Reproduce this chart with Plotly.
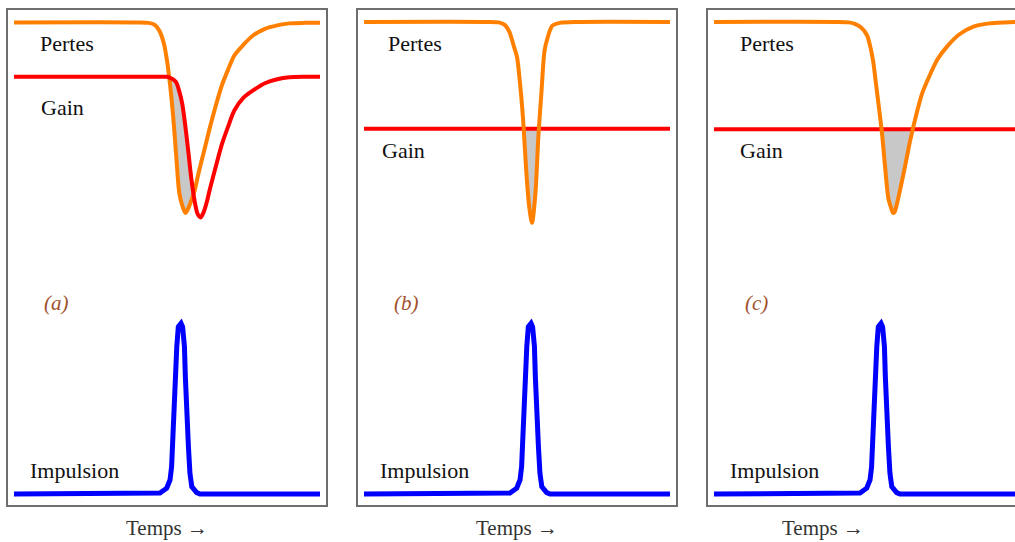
import numpy as np
import plotly.graph_objects as go
from plotly.subplots import make_subplots

# time axis (arbitrary units, 0..100) and levels (0 = bottom of box, 100 = top)
# panel (a)
t_a = [0, 40, 44, 46, 47.5, 49, 50, 51, 52, 53, 54, 55, 56, 57, 58, 59, 60, 61, 62, 63,
       64, 66, 68, 70, 72, 75, 78, 82, 86, 90, 95, 100]
pertes_a = [97.5, 97.5, 97.4, 97.0, 95.8, 93.2, 89.8, 84.9, 78.6, 70.7, 63.1, 60.5, 59.0, 60.0,
            61.6, 63.5, 66.2, 68.8, 71.2, 73.7, 76.2, 80.8, 84.9, 88.0, 90.8, 93.0, 94.8, 96.2,
            96.9, 97.3, 97.4, 97.4]
gain_a = [86.5, 86.5, 86.5, 86.5, 86.5, 86.5, 86.5, 86.3, 86.0, 85.4, 83.6, 81.0, 76.5, 71.2,
          65.7, 61.5, 58.8, 58.1, 59.2, 61.2, 63.8, 68.5, 73.0, 76.5, 79.7, 82.3, 83.7, 85.2,
          86.0, 86.4, 86.5, 86.5]

# panel (b)
t_b = [0, 40, 44, 46, 47.5, 49, 50, 51, 52, 53, 54, 54.9, 56, 57, 58, 59, 60, 61.5, 64, 70, 100]
pertes_b = [97.6, 97.6, 97.5, 97.0, 95.6, 92.6, 90.5, 85.1, 77.8, 67.7, 60.2, 57.0, 62.8, 74.6,
            83.5, 91.8, 94.4, 96.8, 97.4, 97.6, 97.6]
gain_b_level = 76.0

# panel (c)
t_c = [0, 40, 44, 46, 48, 50, 51, 52, 53, 54, 55, 56, 57, 58, 58.5, 59, 60, 61, 62, 63, 64, 66,
       68, 70, 73, 76, 80, 85, 90, 95, 100]
pertes_c = [97.6, 97.6, 97.5, 97.2, 96.5, 94.9, 92.8, 89.7, 84.8, 79.8, 74.5, 67.7, 61.9, 59.8,
            59.0, 59.2, 61.4, 64.2, 67.1, 70.2, 73.3, 78.6, 83.1, 86.1, 90.0, 92.5, 95.0, 96.7,
            97.3, 97.5, 97.6]
gain_c_level = 75.9

# pulse, same in the three panels
t_pulse = [0, 47.7, 49.9, 51.0, 51.5, 51.9, 52.3, 52.6, 53.2, 53.7, 54.6, 55.1, 55.7, 56.0, 56.4,
           57.0, 57.5, 58.1, 59.7, 60.8, 100]
pulse = [2.2, 2.4, 3.4, 5.1, 7.7, 13.8, 20.5, 27.9, 32.0, 36.0, 36.7, 36.0, 32.0, 25.9, 18.5,
         11.8, 6.4, 3.7, 2.5, 2.2, 2.2]

panel_tags = ["(a)", "(b)", "(c)"]

ORANGE = "#ff8000"
RED = "#ff0000"
BLUE = "#0000ff"
GREY_FILL = "#c8c8c8"
SERIF = "Liberation Serif, Times New Roman, serif"

panels = [
    (t_a, pertes_a, gain_a, True),
    (t_b, pertes_b, [gain_b_level] * len(t_b), False),
    (t_c, pertes_c, [gain_c_level] * len(t_c), False),
]

fig = make_subplots(rows=1, cols=3)

for i, (t, pertes, gain, red_on_top) in enumerate(panels):
    col = i + 1
    low = np.minimum(np.array(pertes), np.array(gain))

    # shaded area where the losses drop below the gain
    fig.add_trace(go.Scatter(x=t, y=gain, mode="lines", line=dict(width=0, shape="spline", smoothing=0.8),
                             showlegend=False, hoverinfo="skip"), row=1, col=col)
    fig.add_trace(go.Scatter(x=t, y=low, mode="lines", line=dict(width=0, shape="spline", smoothing=0.8),
                             fill="tonexty", fillcolor=GREY_FILL, showlegend=False, hoverinfo="skip"),
                  row=1, col=col)

    orange = go.Scatter(x=t, y=pertes, mode="lines", name="Pertes",
                        line=dict(color=ORANGE, width=4, shape="spline", smoothing=0.8), showlegend=False)
    red = go.Scatter(x=t, y=gain, mode="lines", name="Gain",
                     line=dict(color=RED, width=4, shape="spline", smoothing=0.8), showlegend=False)
    if red_on_top:
        fig.add_trace(orange, row=1, col=col)
        fig.add_trace(red, row=1, col=col)
    else:
        fig.add_trace(red, row=1, col=col)
        fig.add_trace(orange, row=1, col=col)

    fig.add_trace(go.Scatter(x=t_pulse, y=pulse, mode="lines", name="Impulsion",
                             line=dict(color=BLUE, width=5), showlegend=False), row=1, col=col)

# plot boxes in page pixels: 8-326, 358-676, 708-(off the right edge)
plot_w = 1007.0
domains = [[0, 318 / plot_w], [350 / plot_w, 668 / plot_w], [700 / plot_w, 1.0]]
x_ranges = [[-1.96, 101.96], [-1.96, 101.96], [-1.96, 98.37]]

gain_label_y = [80.4, 71.7, 71.7]
pertes_x = [17.3, 16.7, 17.3]
gain_x = [15.7, 13.0, 15.4]

annotations = []
for i in range(3):
    xr = "x" if i == 0 else f"x{i + 1}"
    yr = "y" if i == 0 else f"y{i + 1}"
    fig.layout[f"xaxis{'' if i == 0 else i + 1}"].update(
        domain=domains[i], range=x_ranges[i], showgrid=False, zeroline=False, showticklabels=False,
        ticks="", showline=True, linecolor="#6e6e6e", linewidth=1.5, mirror=True)
    fig.layout[f"yaxis{'' if i == 0 else i + 1}"].update(
        range=[0, 100], showgrid=False, zeroline=False, showticklabels=False, ticks="",
        showline=True, linecolor="#6e6e6e", linewidth=1.5, mirror=(i < 2))

    annotations += [
        dict(x=pertes_x[i], y=93.3, xref=xr, yref=yr, text="Pertes", showarrow=False,
             font=dict(family=SERIF, size=22, color="#111111")),
        dict(x=gain_x[i], y=gain_label_y[i], xref=xr, yref=yr, text="Gain", showarrow=False,
             font=dict(family=SERIF, size=22, color="#111111")),
        dict(x=19.9, y=6.9, xref=xr, yref=yr, text="Impulsion", showarrow=False,
             font=dict(family=SERIF, size=22, color="#111111")),
        dict(x=13.9, y=40.8, xref=xr, yref=yr, text=f"<i>{panel_tags[i]}</i>", showarrow=False,
             font=dict(family=SERIF, size=21, color="#a0522d")),
        dict(x=0.5, y=-0.046, xref=f"{xr} domain", yref=f"{yr} domain",
             text="Temps →", showarrow=False, yanchor="middle",
             font=dict(family=SERIF, size=21, color="#333333")),
    ]

# third panel runs off the right edge, so centre its caption on the full box
annotations[-1].update(x=(866 - 8) / plot_w, xref="paper")

fig.update_layout(
    width=1015, height=542,
    margin=dict(l=8, r=0, t=10, b=37),
    paper_bgcolor="white", plot_bgcolor="white",
    annotations=annotations,
    showlegend=False,
    hovermode=False,
)

# drop the default page margin so the figure sits at the window's corner
fig.write_html("out.html", config={"displayModeBar": False},
               post_script="document.body.style.margin='0';")
